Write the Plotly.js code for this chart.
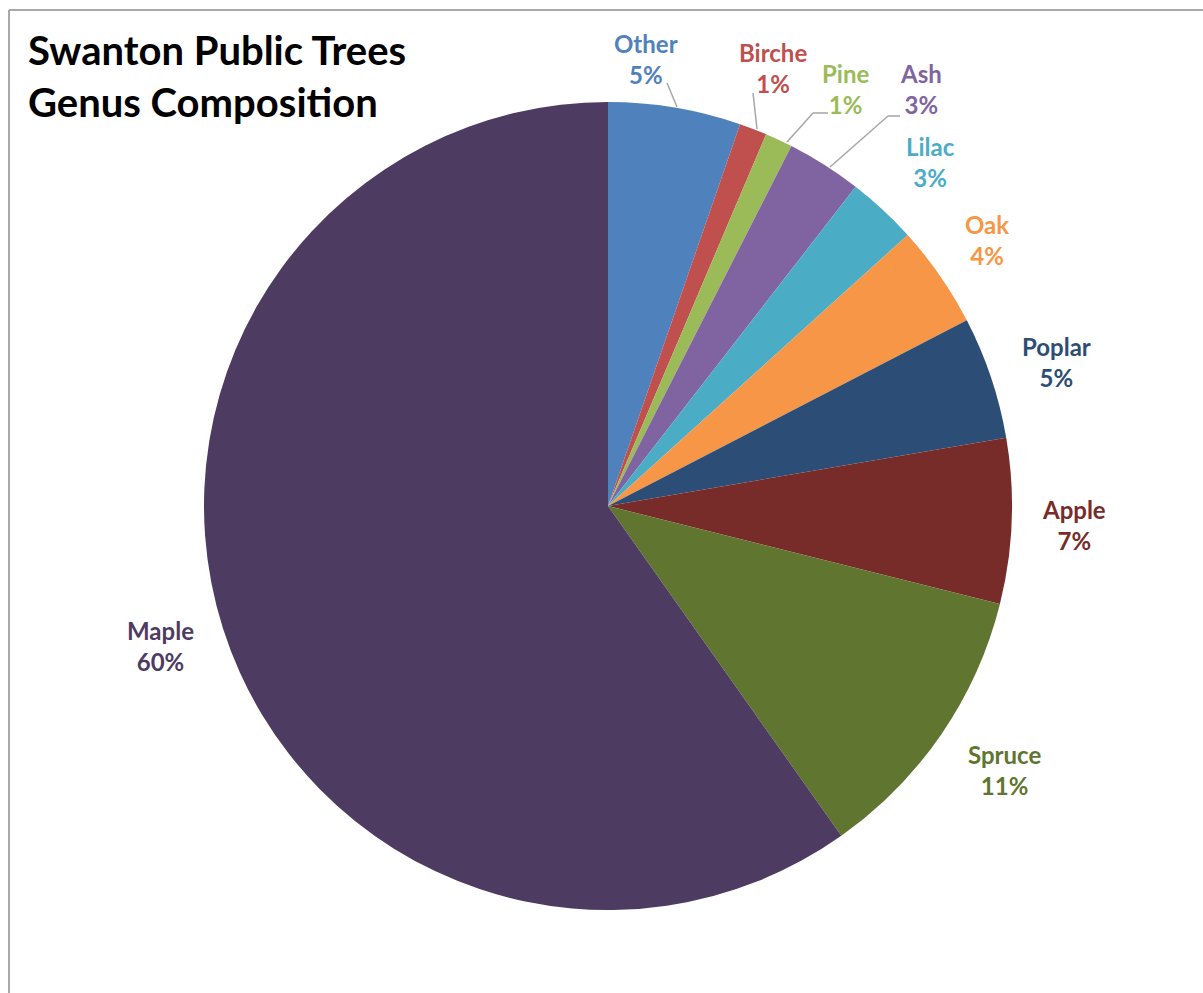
<!DOCTYPE html>
<html>
<head>
<meta charset="utf-8">
<script src="https://cdn.plot.ly/plotly-3.0.1.min.js"></script>
<style>
  html, body { margin: 0; padding: 0; background: #ffffff; }
  #chart { width: 1203px; height: 993px; }
</style>
</head>
<body>
<div id="chart"></div>
<script>
// ---- data ----
const genera = ["Other", "Birche", "Pine", "Ash", "Lilac", "Oak", "Poplar", "Apple", "Spruce", "Maple"];
const shares = [5.3, 1.1, 1.1, 3.0, 2.8, 4.1, 4.9, 6.6, 11.3, 59.8];
const sliceColors = ["#4f81bd", "#c0504d", "#9bbb59", "#8064a2", "#4bacc6", "#f79646", "#2c4d75", "#772c2a", "#5f7530", "#4d3b62"];
const titleText = "Swanton Public Trees<br>Genus Composition";

// ---- layout helpers (positions in pixels) ----
const W = 1203, H = 993;
const cx = 608, cy = 506, R = 404;
const labelPos = [
  [646, 59], [773, 68], [845, 89], [921, 89], [930, 162],
  [987, 240], [1056, 362], [1074, 525], [1004, 770], [160, 646]
];
const leaders = [
  [[667, 83], [677, 107]],
  [[753, 93], [757, 129]],
  [[828, 113], [813, 113], [787, 142]],
  [[900, 116], [888, 116], [830, 167]]
];
const px = x => x / W;
const py = y => 1 - y / H;

const total = shares.reduce((a, b) => a + b, 0);
const annotations = genera.map((g, i) => ({
  xref: "paper", yref: "paper",
  x: px(labelPos[i][0]), y: py(labelPos[i][1]),
  xanchor: "center", yanchor: "middle",
  text: g + "<br>" + Math.round(shares[i] / total * 100) + "%",
  showarrow: false,
  font: { family: "Lato, 'Open Sans', sans-serif", size: 24, color: sliceColors[i], weight: "bold" },
  align: "center"
}));
annotations.push({
  xref: "paper", yref: "paper",
  x: px(26), y: py(76),
  xanchor: "left", yanchor: "middle",
  text: titleText, showarrow: false, align: "left",
  font: { family: "Lato, 'Open Sans', sans-serif", size: 40, color: "#000000", weight: "bold" }
});

const shapes = [];
leaders.forEach(pts => {
  for (let k = 0; k < pts.length - 1; k++) {
    shapes.push({
      type: "line", xref: "paper", yref: "paper",
      x0: px(pts[k][0]), y0: py(pts[k][1]), x1: px(pts[k + 1][0]), y1: py(pts[k + 1][1]),
      line: { color: "#a6a6a6", width: 1.5 }
    });
  }
});
// chart border
shapes.push({ type: "line", xref: "paper", yref: "paper", x0: px(9), y0: py(10), x1: px(9), y1: 0, line: { color: "#8c8c8c", width: 1.5 } });
shapes.push({ type: "line", xref: "paper", yref: "paper", x0: px(9), y0: py(10), x1: 1, y1: py(10), line: { color: "#8c8c8c", width: 1.5 } });

const trace = {
  type: "pie",
  labels: genera,
  values: shares,
  sort: false,
  direction: "clockwise",
  rotation: 0,
  marker: { colors: sliceColors, line: { width: 0 } },
  textinfo: "none",
  hoverinfo: "label+percent",
  showlegend: false,
  domain: { x: [px(cx - R), px(cx + R)], y: [py(cy + R), py(cy - R)] }
};

const layout = {
  width: W, height: H,
  margin: { l: 0, r: 0, t: 0, b: 0 },
  paper_bgcolor: "#ffffff",
  showlegend: false,
  annotations: annotations,
  shapes: shapes
};

Plotly.newPlot("chart", [trace], layout, { displayModeBar: false });
</script>
</body>
</html>
